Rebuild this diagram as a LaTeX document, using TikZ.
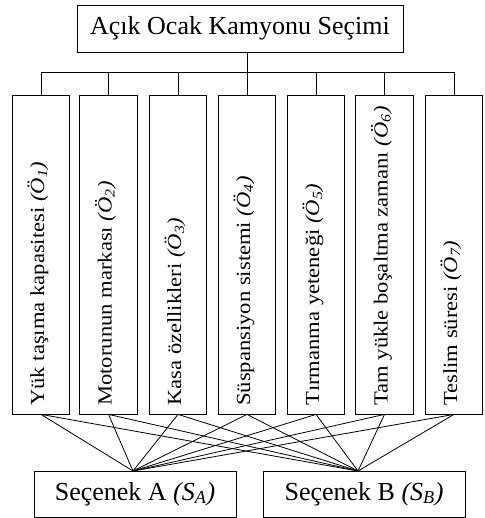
\documentclass[tikz,border=0pt]{standalone}
\usepackage{fontspec}
\setmainfont{Liberation Serif}
\begin{document}
\begin{tikzpicture}[x=1pt,y=-1pt,
  box/.style={draw,line width=0.8pt,inner sep=0pt},
  crit/.style={box,minimum width=57.5pt,minimum height=319pt},
  ctext/.style={rotate=90,xscale=1.13,anchor=base west,inner sep=0pt,font=\fontsize{20}{24}\selectfont},
  big/.style={font=\fontsize{26}{30}\selectfont},
  link/.style={line width=0.8pt}]
\useasboundingbox (0,0) rectangle (484,518);
\node[box,big,minimum width=326pt,minimum height=47pt] (top) at (240,28.5) {Açık Ocak Kamyonu Seçimi};
\coordinate (tj) at (247,52);
\coordinate (bus) at (247,72);
\foreach \i/\x/\t in {1/41/{Yük taşıma kapasitesi},2/108.5/{Motorunun markası},3/178/{Kasa özellikleri},4/247/{Süspansiyon sistemi},5/316/{Tırmanma yeteneği},6/384.5/{Tam yükle boşaltma zamanı},7/454/{Teslim süresi}}{
  \node[crit] (c\i) at (\x,254.5) {};
  \node[ctext] (t\i) at (\x+3,406) {\t{} \textit{(Ö\textsubscript{\i})}};
  \coordinate (b\i) at (\x,72);
}
\node[box,big,minimum width=202pt,minimum height=46pt] (sa) at (135,494) {Seçenek A \textit{(S\textsubscript{A})}};
\node[box,big,minimum width=202pt,minimum height=46pt] (sb) at (364,494) {Seçenek B \textit{(S\textsubscript{B})}};
\coordinate (pa) at (133,471);
\coordinate (pb) at (358,471);
\draw[link] (tj) -- (bus);
\draw[link] (b1) -- (b7);
\foreach \i in {1,...,7}{
  \draw[link] (b\i) -- (c\i.north);
  \draw[link] (c\i.south) -- (pa);
  \draw[link] (c\i.south) -- (pb);
}
\end{tikzpicture}
\end{document}
